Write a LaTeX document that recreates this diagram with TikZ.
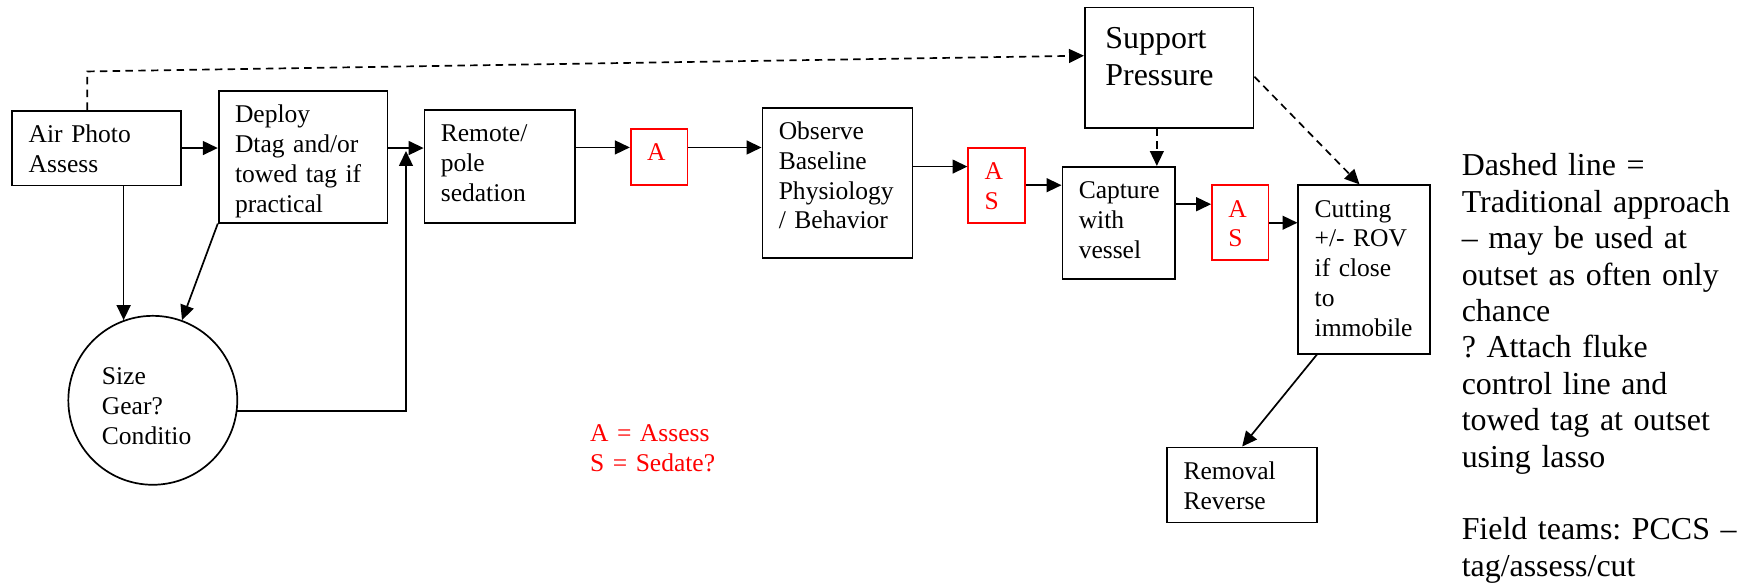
\documentclass[tikz,border=0pt]{standalone}
\usepackage{fontspec}
\setmainfont{Liberation Serif}
\usetikzlibrary{arrows.meta}
\definecolor{assessred}{RGB}{255, 0, 0}
\frenchspacing

\begin{document}
\begin{tikzpicture}[
        box/.style={rectangle, draw, line width=0.8pt, inner xsep=7.7pt, inner ysep=0pt, align=left, text height=15pt, font=\fontsize{12}{14}\selectfont},
        redbox/.style={box, draw=assessred, text=assessred},
        arrow/.style={-{Triangle[length=7pt, width=6.5pt]}, line width=0.8pt},
        dasharrow/.style={arrow, dash pattern=on 3.5pt off 2.5pt}
      ]
        \useasboundingbox (0, 0) rectangle (28.824, -9.696);

        \node[box, text width=64pt, text depth=20.1pt] at (1.599, -2.445) (air) {Air Photo\\Assess};
        \node[box, text width=64pt, text depth=46.9pt] at (5.007, -2.591) (deploy) {Deploy\\Dtag and/or\\towed tag if\\practical};
        \node[box, text width=55.2pt, text depth=38pt] at (8.252, -2.748) (remote) {Remote/\\pole\\sedation};
        \node[redbox, text width=11.3pt, text depth=11.6pt] at (10.887, -2.593) (a1) {A};
        \node[box, text width=55.2pt, text depth=55.5pt] at (13.834, -3.018) (observe) {Observe\\Baseline\\Physiology\\/ Behavior};
        \node[redbox, text width=11.1pt, text depth=20.25pt] at (16.460, -3.059) (as1) {A\\S};
        \node[box, text width=37.4pt, text depth=37.6pt] at (18.476, -3.679) (capture) {Capture\\with\\vessel};
        \node[box, inner xsep=9.7pt, text width=59.9pt, text height=19.4pt, text depth=37.1pt, font=\fontsize{15}{17.2}\selectfont] at (19.312, -1.118) (support) {Support\\Pressure};
        \node[redbox, text width=11.1pt, text depth=20.25pt] at (20.485, -3.679) (as2) {A\\S};
        \node[box, text width=46.4pt, text depth=64.2pt] at (22.531, -4.452) (cutting) {Cutting\\+/- ROV\\if close\\to\\immobile};
        \node[box, text width=55.1pt, text depth=20.3pt] at (20.518, -8.010) (removal) {Removal\\Reverse};
        \node[circle, draw, line width=0.8pt, minimum size=79.4pt, inner sep=0pt, text width=47.8pt, text height=12pt, text depth=26.4pt, align=left, font=\fontsize{12}{14}\selectfont] at (2.524, -6.612) (size) {Size\\Gear?\\Conditio};
        \coordinate (merge) at (6.706, -2.494);

        \node[anchor=base west, inner sep=0pt, text width=70pt, align=left, text=assessred, font=\fontsize{12}{14}\selectfont] at (9.741, -7.296) (legend) {A = Assess\\S = Sedate?};
        \node[anchor=base west, inner sep=0pt, text width=135pt, align=left, font=\fontsize{15}{17.1}\selectfont] at (24.138, -2.907) (notes) {Dashed line =\\Traditional approach\\– may be used at\\outset as often only\\chance\\? Attach fluke\\control line and\\towed tag at outset\\using lasso\\[17.1pt]Field teams: PCCS –\\tag/assess/cut};

        \draw[arrow] (air.east) -- (air.east -| deploy.west);
        \draw[arrow] (deploy.east |- air.east) -- (remote.west |- air.east);
        \draw[arrow] (remote.14) -- (remote.14 -| a1.west);
        \draw[arrow] (a1.18) -- (a1.18 -| observe.west);
        \draw[arrow] (observe.12) -- (observe.12 -| as1.west);
        \draw[arrow] (as1.east) -- (as1.east -| capture.west);
        \draw[arrow] (capture.18) -- (capture.18 -| as2.west);
        \draw[arrow] (as2.east) -- (as2.east -| cutting.west);
        \draw[arrow] (cutting.241) -- (removal.north);
        \draw[arrow] (size.110 |- air.south) -- (size.110);
        \draw[arrow] (deploy.south west) -- (size.70);
        \draw[arrow] (size.-7) -| (merge);
        \draw[dasharrow] (air.104) -- ++(0, 0.634) -- (support.172);
        \draw[dasharrow] (capture.56 |- support.south) -- (capture.56);
        \draw[dasharrow] (support.-6) -- (cutting.93);
      \end{tikzpicture}
\end{document}
